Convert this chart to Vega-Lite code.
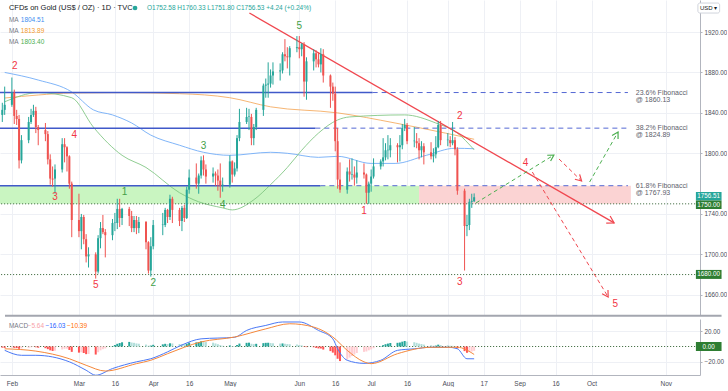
{
  "$schema": "https://vega.github.io/schema/vega-lite/v6.json",
  "padding": 0,
  "autosize": {"type": "pad"},
  "spacing": 2,
  "background": "#ffffff",
  "config": {"font": "Liberation Sans", "view": {"stroke": null}},
  "datasets": {
    "candles": [
      {"d":"2021-01-28","o":1838,"h":1850,"l":1831,"c":1843,"m":-1.5},
      {"d":"2021-01-29","o":1843,"h":1866,"l":1838,"c":1848,"m":-1.8},
      {"d":"2021-02-01","o":1848,"h":1875,"l":1846,"c":1860,"m":-1.5},
      {"d":"2021-02-02","o":1860,"h":1863,"l":1829,"c":1837,"m":-1.8},
      {"d":"2021-02-03","o":1837,"h":1843,"l":1828,"c":1834,"m":-2.0},
      {"d":"2021-02-04","o":1834,"h":1838,"l":1785,"c":1793,"m":-3.0},
      {"d":"2021-02-05","o":1793,"h":1818,"l":1790,"c":1813,"m":-2.5},
      {"d":"2021-02-08","o":1813,"h":1836,"l":1810,"c":1831,"m":-1.8},
      {"d":"2021-02-09","o":1831,"h":1844,"l":1829,"c":1838,"m":-1.0},
      {"d":"2021-02-10","o":1838,"h":1848,"l":1836,"c":1842,"m":-0.6},
      {"d":"2021-02-11","o":1842,"h":1846,"l":1820,"c":1826,"m":-1.0},
      {"d":"2021-02-12","o":1826,"h":1828,"l":1808,"c":1823,"m":-1.6},
      {"d":"2021-02-15","o":1823,"h":1830,"l":1812,"c":1819,"m":-2.2},
      {"d":"2021-02-16","o":1819,"h":1822,"l":1789,"c":1794,"m":-3.5},
      {"d":"2021-02-17","o":1794,"h":1799,"l":1769,"c":1775,"m":-5.0},
      {"d":"2021-02-18","o":1775,"h":1787,"l":1767,"c":1774,"m":-5.8},
      {"d":"2021-02-19","o":1775,"h":1789,"l":1760,"c":1784,"m":-5.5},
      {"d":"2021-02-22","o":1784,"h":1815,"l":1781,"c":1809,"m":-3.8},
      {"d":"2021-02-23","o":1809,"h":1815,"l":1791,"c":1806,"m":-3.0},
      {"d":"2021-02-24","o":1806,"h":1807,"l":1782,"c":1797,"m":-2.8},
      {"d":"2021-02-25","o":1797,"h":1798,"l":1765,"c":1770,"m":-4.5},
      {"d":"2021-02-26","o":1770,"h":1772,"l":1717,"c":1734,"m":-7.0},
      {"d":"2021-03-01","o":1734,"h":1760,"l":1717,"c":1723,"m":-8.0},
      {"d":"2021-03-02","o":1723,"h":1740,"l":1705,"c":1737,"m":-7.5},
      {"d":"2021-03-03","o":1737,"h":1739,"l":1710,"c":1715,"m":-8.5},
      {"d":"2021-03-04","o":1715,"h":1720,"l":1692,"c":1698,"m":-10.0},
      {"d":"2021-03-05","o":1698,"h":1707,"l":1687,"c":1700,"m":-9.8},
      {"d":"2021-03-08","o":1700,"h":1702,"l":1676,"c":1683,"m":-10.5},
      {"d":"2021-03-09","o":1683,"h":1719,"l":1681,"c":1716,"m":-7.5},
      {"d":"2021-03-10","o":1716,"h":1732,"l":1706,"c":1726,"m":-5.0},
      {"d":"2021-03-11","o":1726,"h":1739,"l":1720,"c":1722,"m":-3.5},
      {"d":"2021-03-12","o":1722,"h":1725,"l":1697,"c":1719,"m":-2.5},
      {"d":"2021-03-15","o":1719,"h":1735,"l":1714,"c":1731,"m":0.5},
      {"d":"2021-03-16","o":1731,"h":1741,"l":1723,"c":1731.5,"m":2.0},
      {"d":"2021-03-17","o":1731,"h":1755,"l":1725,"c":1745,"m":3.5},
      {"d":"2021-03-18","o":1745,"h":1755,"l":1727,"c":1736,"m":4.5},
      {"d":"2021-03-19","o":1736,"h":1746,"l":1729,"c":1745,"m":5.5},
      {"d":"2021-03-22","o":1745,"h":1747,"l":1728,"c":1738,"m":6.0},
      {"d":"2021-03-23","o":1738,"h":1743,"l":1722,"c":1726,"m":5.2},
      {"d":"2021-03-24","o":1726,"h":1738,"l":1722,"c":1734,"m":4.8},
      {"d":"2021-03-25","o":1734,"h":1738,"l":1720,"c":1726,"m":4.0},
      {"d":"2021-03-26","o":1726,"h":1737,"l":1721,"c":1732,"m":3.6},
      {"d":"2021-03-29","o":1732,"h":1733,"l":1705,"c":1712,"m":2.5},
      {"d":"2021-03-30","o":1712,"h":1713,"l":1681,"c":1684,"m":1.0},
      {"d":"2021-03-31","o":1684,"h":1717,"l":1678,"c":1708,"m":1.2},
      {"d":"2021-04-01","o":1708,"h":1734,"l":1705,"c":1729,"m":2.2},
      {"d":"2021-04-05","o":1729,"h":1741,"l":1719,"c":1729.5,"m":2.8},
      {"d":"2021-04-06","o":1729,"h":1746,"l":1727,"c":1744,"m":3.5},
      {"d":"2021-04-07","o":1744,"h":1745,"l":1731,"c":1737,"m":3.2},
      {"d":"2021-04-08","o":1737,"h":1759,"l":1734,"c":1755,"m":4.2},
      {"d":"2021-04-09","o":1755,"h":1757,"l":1731,"c":1744,"m":4.0},
      {"d":"2021-04-12","o":1744,"h":1746,"l":1728,"c":1733,"m":3.2},
      {"d":"2021-04-13","o":1733,"h":1748,"l":1723,"c":1746,"m":3.0},
      {"d":"2021-04-14","o":1746,"h":1749,"l":1732,"c":1736,"m":2.6},
      {"d":"2021-04-15","o":1736,"h":1767,"l":1735,"c":1764,"m":3.6},
      {"d":"2021-04-16","o":1764,"h":1784,"l":1760,"c":1776,"m":5.0},
      {"d":"2021-04-19","o":1776,"h":1790,"l":1765,"c":1770,"m":5.4},
      {"d":"2021-04-20","o":1770,"h":1780,"l":1760,"c":1778,"m":5.8},
      {"d":"2021-04-21","o":1778,"h":1797,"l":1775,"c":1793,"m":6.8},
      {"d":"2021-04-22","o":1793,"h":1798,"l":1778,"c":1784,"m":6.6},
      {"d":"2021-04-23","o":1784,"h":1789,"l":1770,"c":1777,"m":5.8},
      {"d":"2021-04-26","o":1777,"h":1786,"l":1771,"c":1780,"m":5.0},
      {"d":"2021-04-27","o":1780,"h":1782,"l":1768,"c":1778,"m":4.0},
      {"d":"2021-04-28","o":1778,"h":1784,"l":1763,"c":1773,"m":3.0},
      {"d":"2021-04-29","o":1773,"h":1790,"l":1756,"c":1768,"m":1.8},
      {"d":"2021-04-30","o":1768,"h":1776,"l":1762,"c":1769,"m":1.0},
      {"d":"2021-05-03","o":1769,"h":1798,"l":1766,"c":1792,"m":1.4},
      {"d":"2021-05-04","o":1792,"h":1793,"l":1771,"c":1779,"m":0.6},
      {"d":"2021-05-05","o":1779,"h":1791,"l":1777,"c":1785,"m":0.4},
      {"d":"2021-05-06","o":1785,"h":1818,"l":1782,"c":1815,"m":2.0},
      {"d":"2021-05-07","o":1815,"h":1844,"l":1812,"c":1831,"m":3.8},
      {"d":"2021-05-10","o":1831,"h":1845,"l":1829,"c":1836,"m":4.8},
      {"d":"2021-05-11","o":1836,"h":1844,"l":1823,"c":1836.5,"m":5.0},
      {"d":"2021-05-12","o":1836,"h":1839,"l":1808,"c":1815,"m":3.6},
      {"d":"2021-05-13","o":1815,"h":1829,"l":1808,"c":1826,"m":3.2},
      {"d":"2021-05-14","o":1826,"h":1845,"l":1823,"c":1843,"m":3.5},
      {"d":"2021-05-17","o":1843,"h":1869,"l":1837,"c":1867,"m":4.4},
      {"d":"2021-05-18","o":1867,"h":1874,"l":1855,"c":1868,"m":4.8},
      {"d":"2021-05-19","o":1868,"h":1890,"l":1855,"c":1869,"m":4.9},
      {"d":"2021-05-20","o":1869,"h":1883,"l":1865,"c":1877,"m":4.6},
      {"d":"2021-05-21","o":1877,"h":1890,"l":1868,"c":1881,"m":4.2},
      {"d":"2021-05-24","o":1881,"h":1889,"l":1872,"c":1882,"m":3.8},
      {"d":"2021-05-25","o":1882,"h":1900,"l":1879,"c":1898,"m":4.0},
      {"d":"2021-05-26","o":1898,"h":1913,"l":1891,"c":1896,"m":3.6},
      {"d":"2021-05-27","o":1896,"h":1905,"l":1884,"c":1895,"m":3.2},
      {"d":"2021-05-28","o":1895,"h":1906,"l":1877,"c":1904,"m":3.0},
      {"d":"2021-05-31","o":1904,"h":1916,"l":1900,"c":1905,"m":2.6},
      {"d":"2021-06-01","o":1905,"h":1916,"l":1894,"c":1903,"m":2.0},
      {"d":"2021-06-02","o":1903,"h":1909,"l":1896,"c":1908,"m":1.5},
      {"d":"2021-06-03","o":1908,"h":1910,"l":1856,"c":1871,"m":-0.5},
      {"d":"2021-06-04","o":1871,"h":1895,"l":1853,"c":1891,"m":-0.8},
      {"d":"2021-06-07","o":1891,"h":1903,"l":1882,"c":1899,"m":-1.0},
      {"d":"2021-06-08","o":1899,"h":1902,"l":1885,"c":1893,"m":-1.8},
      {"d":"2021-06-09","o":1893,"h":1900,"l":1885,"c":1888,"m":-2.5},
      {"d":"2021-06-10","o":1888,"h":1904,"l":1880,"c":1898,"m":-2.6},
      {"d":"2021-06-11","o":1898,"h":1903,"l":1870,"c":1877,"m":-4.0},
      {"d":"2021-06-14","o":1877,"h":1878,"l":1845,"c":1866,"m":-6.0},
      {"d":"2021-06-15","o":1866,"h":1870,"l":1852,"c":1859,"m":-8.0},
      {"d":"2021-06-16","o":1859,"h":1866,"l":1802,"c":1812,"m":-11.5},
      {"d":"2021-06-17","o":1812,"h":1825,"l":1765,"c":1774,"m":-16.0},
      {"d":"2021-06-18","o":1774,"h":1791,"l":1761,"c":1764,"m":-19.0},
      {"d":"2021-06-21","o":1764,"h":1786,"l":1760,"c":1782,"m":-17.0},
      {"d":"2021-06-22","o":1782,"h":1794,"l":1772,"c":1779,"m":-14.5},
      {"d":"2021-06-23","o":1779,"h":1795,"l":1774,"c":1779.5,"m":-12.5},
      {"d":"2021-06-24","o":1779,"h":1787,"l":1768,"c":1776,"m":-10.5},
      {"d":"2021-06-25","o":1776,"h":1793,"l":1770,"c":1781,"m":-8.5},
      {"d":"2021-06-28","o":1781,"h":1790,"l":1775,"c":1779,"m":-7.0},
      {"d":"2021-06-29","o":1779,"h":1780,"l":1750,"c":1761,"m":-6.5},
      {"d":"2021-06-30","o":1761,"h":1772,"l":1750,"c":1770,"m":-5.0},
      {"d":"2021-07-01","o":1770,"h":1784,"l":1762,"c":1777,"m":-3.8},
      {"d":"2021-07-02","o":1777,"h":1795,"l":1775,"c":1787,"m":-2.2},
      {"d":"2021-07-05","o":1787,"h":1794,"l":1784,"c":1792,"m":0.5},
      {"d":"2021-07-06","o":1792,"h":1815,"l":1787,"c":1796,"m":1.8},
      {"d":"2021-07-07","o":1796,"h":1810,"l":1793,"c":1803,"m":3.0},
      {"d":"2021-07-08","o":1803,"h":1818,"l":1794,"c":1803.5,"m":3.8},
      {"d":"2021-07-09","o":1803,"h":1815,"l":1796,"c":1808,"m":4.6},
      {"d":"2021-07-12","o":1808,"h":1810,"l":1791,"c":1806,"m":4.8},
      {"d":"2021-07-13","o":1806,"h":1818,"l":1792,"c":1808,"m":5.2},
      {"d":"2021-07-14","o":1808,"h":1829,"l":1804,"c":1825,"m":6.3},
      {"d":"2021-07-15","o":1825,"h":1834,"l":1822,"c":1828,"m":7.2},
      {"d":"2021-07-16","o":1828,"h":1830,"l":1809,"c":1812,"m":6.4},
      {"d":"2021-07-19","o":1812,"h":1826,"l":1806,"c":1812.5,"m":5.6},
      {"d":"2021-07-20","o":1812,"h":1820,"l":1805,"c":1810,"m":4.8},
      {"d":"2021-07-21","o":1810,"h":1815,"l":1794,"c":1803,"m":3.8},
      {"d":"2021-07-22","o":1803,"h":1812,"l":1796,"c":1807,"m":3.2},
      {"d":"2021-07-23","o":1807,"h":1810,"l":1789,"c":1801,"m":2.5},
      {"d":"2021-07-26","o":1801,"h":1811,"l":1794,"c":1797,"m":1.6},
      {"d":"2021-07-27","o":1797,"h":1805,"l":1791,"c":1799,"m":1.0},
      {"d":"2021-07-28","o":1799,"h":1817,"l":1795,"c":1806,"m":1.2},
      {"d":"2021-07-29","o":1806,"h":1832,"l":1805,"c":1828,"m":2.4},
      {"d":"2021-07-30","o":1828,"h":1832,"l":1808,"c":1813,"m":2.0},
      {"d":"2021-08-02","o":1813,"h":1820,"l":1807,"c":1813.5,"m":1.6},
      {"d":"2021-08-03","o":1813,"h":1817,"l":1806,"c":1810,"m":1.0},
      {"d":"2021-08-04","o":1810,"h":1831,"l":1808,"c":1813,"m":0.9},
      {"d":"2021-08-05","o":1813,"h":1816,"l":1798,"c":1804,"m":0.3},
      {"d":"2021-08-06","o":1804,"h":1806,"l":1759,"c":1763,"m":-2.5},
      {"d":"2021-08-09","o":1763,"h":1765,"l":1684,"c":1728,"m":-6.0},
      {"d":"2021-08-10","o":1728,"h":1739,"l":1718,"c":1729,"m":-8.2},
      {"d":"2021-08-11","o":1729,"h":1755,"l":1724,"c":1752,"m":-7.4},
      {"d":"2021-08-12","o":1752,"h":1760,"l":1746,"c":1753,"m":-6.6},
      {"d":"2021-08-13","o":1752.58,"h":1760.33,"l":1751.8,"c":1756.53,"m":-5.64}
    ],
    "ma": [
      {"s":"a","d":"2021-01-29","p":1880},{"s":"a","d":"2021-02-12","p":1872.5},{"s":"a","d":"2021-02-26","p":1860.7},
      {"s":"a","d":"2021-03-07","p":1843},{"s":"a","d":"2021-03-15","p":1838},{"s":"a","d":"2021-03-23","p":1830},
      {"s":"a","d":"2021-03-31","p":1818},{"s":"a","d":"2021-04-12","p":1808},{"s":"a","d":"2021-04-22","p":1801},
      {"s":"a","d":"2021-05-03","p":1798},{"s":"a","d":"2021-05-20","p":1801},{"s":"a","d":"2021-05-27","p":1800},
      {"s":"a","d":"2021-06-09","p":1796},{"s":"a","d":"2021-06-17","p":1797},{"s":"a","d":"2021-07-01","p":1790},
      {"s":"a","d":"2021-07-11","p":1790},{"s":"a","d":"2021-07-24","p":1798},{"s":"a","d":"2021-08-05","p":1805},
      {"s":"a","d":"2021-08-13","p":1804.51},
      {"s":"b","d":"2021-01-29","p":1854.7},{"s":"b","d":"2021-02-12","p":1857.7},{"s":"b","d":"2021-02-26","p":1859.7},
      {"s":"b","d":"2021-03-19","p":1860},{"s":"b","d":"2021-04-12","p":1859},{"s":"b","d":"2021-05-03","p":1855},
      {"s":"b","d":"2021-05-20","p":1846},{"s":"b","d":"2021-06-17","p":1840},{"s":"b","d":"2021-07-11","p":1830},
      {"s":"b","d":"2021-08-01","p":1820},{"s":"b","d":"2021-08-13","p":1813.89},
      {"s":"c","d":"2021-01-29","p":1851},{"s":"c","d":"2021-02-12","p":1860},{"s":"c","d":"2021-02-26","p":1855},
      {"s":"c","d":"2021-03-07","p":1826},{"s":"c","d":"2021-03-19","p":1798},{"s":"c","d":"2021-03-29","p":1786},
      {"s":"c","d":"2021-04-12","p":1761},{"s":"c","d":"2021-04-20","p":1752},{"s":"c","d":"2021-04-30","p":1746},
      {"s":"c","d":"2021-05-04","p":1744},{"s":"c","d":"2021-05-13","p":1754},{"s":"c","d":"2021-05-20","p":1769},
      {"s":"c","d":"2021-05-27","p":1786},{"s":"c","d":"2021-06-02","p":1803},{"s":"c","d":"2021-06-09","p":1820},
      {"s":"c","d":"2021-06-17","p":1833},{"s":"c","d":"2021-06-22","p":1836},{"s":"c","d":"2021-07-15","p":1838},
      {"s":"c","d":"2021-07-28","p":1830},{"s":"c","d":"2021-08-06","p":1820},{"s":"c","d":"2021-08-13","p":1803.4}
    ],
    "macd": [
      {"s":"m","d":"2021-01-29","v":-5},{"s":"m","d":"2021-02-05","v":-11.5},{"s":"m","d":"2021-02-11","v":-11.5},
      {"s":"m","d":"2021-02-25","v":-20},{"s":"m","d":"2021-03-04","v":-31},{"s":"m","d":"2021-03-08","v":-37.5},
      {"s":"m","d":"2021-03-15","v":-28.8},{"s":"m","d":"2021-03-25","v":-20},{"s":"m","d":"2021-03-31","v":-16},
      {"s":"m","d":"2021-04-07","v":-7},{"s":"m","d":"2021-04-13","v":2},{"s":"m","d":"2021-04-21","v":10},
      {"s":"m","d":"2021-05-05","v":12},{"s":"m","d":"2021-05-10","v":21},{"s":"m","d":"2021-05-18","v":27.5},
      {"s":"m","d":"2021-05-25","v":32},{"s":"m","d":"2021-06-01","v":32},{"s":"m","d":"2021-06-09","v":21},
      {"s":"m","d":"2021-06-15","v":10},{"s":"m","d":"2021-06-17","v":-3},{"s":"m","d":"2021-06-21","v":-18},
      {"s":"m","d":"2021-06-28","v":-22},{"s":"m","d":"2021-07-05","v":-18},{"s":"m","d":"2021-07-12","v":-5},
      {"s":"m","d":"2021-07-19","v":-3},{"s":"m","d":"2021-07-26","v":-1},{"s":"m","d":"2021-08-02","v":-1},
      {"s":"m","d":"2021-08-06","v":-3},{"s":"m","d":"2021-08-10","v":-16},{"s":"m","d":"2021-08-13","v":-16.03},
      {"s":"s","d":"2021-01-29","v":-3},{"s":"s","d":"2021-02-11","v":-6},{"s":"s","d":"2021-02-25","v":-16},
      {"s":"s","d":"2021-03-04","v":-24.5},{"s":"s","d":"2021-03-12","v":-32},{"s":"s","d":"2021-03-25","v":-22.4},
      {"s":"s","d":"2021-03-31","v":-18},{"s":"s","d":"2021-04-07","v":-9.4},{"s":"s","d":"2021-04-21","v":6},
      {"s":"s","d":"2021-05-05","v":12.4},{"s":"s","d":"2021-05-18","v":23},{"s":"s","d":"2021-05-28","v":29.7},
      {"s":"s","d":"2021-06-07","v":25.4},{"s":"s","d":"2021-06-15","v":12.4},{"s":"s","d":"2021-06-21","v":-5},
      {"s":"s","d":"2021-06-28","v":-20},{"s":"s","d":"2021-07-01","v":-22.4},{"s":"s","d":"2021-07-12","v":-9.4},
      {"s":"s","d":"2021-07-26","v":-1},{"s":"s","d":"2021-08-06","v":-1},{"s":"s","d":"2021-08-13","v":-10.39}
    ],
    "zones": [
      {"z":"s","d":"2021-01-20","d2":"2021-07-21","p":1750,"p2":1767.93},
      {"z":"r","d":"2021-07-21","d2":"2021-10-17T10:00:00Z","p":1750,"p2":1767.93}
    ],
    "rays": [
      {"d":"2021-01-20","d2":"2021-07-01T15:00:00Z","p":1860.13},
      {"d":"2021-01-20","d2":"2021-06-07T17:00:00Z","p":1824.89},
      {"d":"2021-01-20","d2":"2021-06-09T19:00:00Z","p":1767.93}
    ],
    "fibs": [
      {"d":"2021-07-01T15:00:00Z","d2":"2021-10-16T05:00:00Z","dt":"2021-10-19T12:00:00Z","p":1860.13,"t":["23.6% Fibonacci","@ 1860.13"]},
      {"d":"2021-06-07T17:00:00Z","d2":"2021-10-16T05:00:00Z","dt":"2021-10-19T12:00:00Z","p":1824.89,"t":["38.2% Fibonacci","@ 1824.89"]},
      {"d":"2021-06-09T19:00:00Z","d2":"2021-10-16T05:00:00Z","dt":"2021-10-19T12:00:00Z","p":1767.93,"t":["61.8% Fibonacci","@ 1767.93"]}
    ],
    "levels": [
      {"d":"2021-01-20","d2":"2021-12-01","p":1750},
      {"d":"2021-01-20","d2":"2021-12-01","p":1680}
    ],
    "trend": [
      {"d":"2021-05-11T04:00:00Z","p":1938.8},
      {"d":"2021-10-10T10:30:00Z","p":1731.1}
    ],
    "proj": [
      {"k":"g1","sc":"bull","i":0,"d":"2021-08-13T19:00:00Z","p":1750.9},
      {"k":"g1","sc":"bull","i":1,"d":"2021-09-15T07:00:00Z","p":1798.3},
      {"k":"r1","sc":"bear","i":0,"d":"2021-09-17T10:00:00Z","p":1794.4},
      {"k":"r1","sc":"bear","i":1,"d":"2021-09-26T20:40:00Z","p":1772.6},
      {"k":"g2","sc":"bull","i":0,"d":"2021-09-30T05:00:00Z","p":1771.6},
      {"k":"g2","sc":"bull","i":1,"d":"2021-10-12T02:00:00Z","p":1821.1},
      {"k":"r2","sc":"bear","i":0,"d":"2021-09-06T07:00:00Z","p":1781.5},
      {"k":"r2","sc":"bear","i":1,"d":"2021-10-07T23:00:00Z","p":1657.8}
    ],
    "heads": [
      {"k":"t","sc":"bear","i":0,"d":"2021-10-08T18:30:00Z","p":1737.9},
      {"k":"t","sc":"bear","i":1,"d":"2021-10-10T10:30:00Z","p":1731.1},
      {"k":"t","sc":"bear","i":2,"d":"2021-10-07T03:30:00Z","p":1731.0},
      {"k":"g1","sc":"bull","i":0,"d":"2021-09-12T12:00:00Z","p":1798.1},
      {"k":"g1","sc":"bull","i":1,"d":"2021-09-15T07:00:00Z","p":1798.3},
      {"k":"g1","sc":"bull","i":2,"d":"2021-09-13T22:00:00Z","p":1792.3},
      {"k":"r1","sc":"bear","i":0,"d":"2021-09-26T01:00:00Z","p":1779.2},
      {"k":"r1","sc":"bear","i":1,"d":"2021-09-26T20:40:00Z","p":1772.6},
      {"k":"r1","sc":"bear","i":2,"d":"2021-09-24T01:30:00Z","p":1774.3},
      {"k":"g2","sc":"bull","i":0,"d":"2021-10-09T14:00:00Z","p":1817.6},
      {"k":"g2","sc":"bull","i":1,"d":"2021-10-12T02:00:00Z","p":1821.1},
      {"k":"g2","sc":"bull","i":2,"d":"2021-10-12T02:00:00Z","p":1814.2},
      {"k":"r2","sc":"bear","i":0,"d":"2021-10-07T21:00:00Z","p":1664.8},
      {"k":"r2","sc":"bear","i":1,"d":"2021-10-07T23:00:00Z","p":1657.8},
      {"k":"r2","sc":"bear","i":2,"d":"2021-10-05T10:00:00Z","p":1661.1}
    ],
    "waves": [
      {"d":"2021-02-02T05:30:00Z","p":1886.4,"n":"2","sc":"bear"},
      {"d":"2021-02-19","p":1756.8,"n":"3","sc":"bear"},
      {"d":"2021-02-27","p":1818.1,"n":"4","sc":"bear"},
      {"d":"2021-03-08","p":1669.7,"n":"5","sc":"bear"},
      {"d":"2021-03-20","p":1761.7,"n":"1","sc":"bull"},
      {"d":"2021-04-01","p":1671.7,"n":"2","sc":"bull"},
      {"d":"2021-04-22","p":1807.2,"n":"3","sc":"bull"},
      {"d":"2021-04-30","p":1748.9,"n":"4","sc":"bull"},
      {"d":"2021-06-01","p":1926.0,"n":"5","sc":"bull"},
      {"d":"2021-06-28","p":1742.9,"n":"1","sc":"bear"},
      {"d":"2021-08-07","p":1836.9,"n":"2","sc":"bear"},
      {"d":"2021-08-07","p":1672.7,"n":"3","sc":"bear"},
      {"d":"2021-09-03T10:00:00Z","p":1790.4,"n":"4","sc":"bear"},
      {"d":"2021-10-10T21:00:00Z","p":1650.9,"n":"5","sc":"bear"}
    ]
  },
  "vconcat": [
    {
      "width": 700,
      "height": 315,
      "resolve": {"scale": {"color": "independent"}},
      "layer": [
        {
          "data": {"name": "zones"},
          "mark": {"type": "rect", "clip": true},
          "encoding": {
            "x": {"field": "d", "type": "temporal", "title": null, "scale": {"type": "utc", "domain": [{"year":2021,"month":1,"date":29,"hours":3,"utc":true},{"year":2021,"month":11,"date":13,"hours":5,"utc":true}]},
                  "axis": {"values": [{"year":2021,"month":2,"date":1,"utc":true},{"year":2021,"month":3,"date":1,"utc":true},{"year":2021,"month":3,"date":16,"utc":true},{"year":2021,"month":4,"date":1,"utc":true},{"year":2021,"month":4,"date":16,"utc":true},{"year":2021,"month":5,"date":3,"utc":true},{"year":2021,"month":6,"date":1,"utc":true},{"year":2021,"month":6,"date":16,"utc":true},{"year":2021,"month":7,"date":1,"utc":true},{"year":2021,"month":7,"date":16,"utc":true},{"year":2021,"month":8,"date":2,"utc":true},{"year":2021,"month":8,"date":17,"utc":true},{"year":2021,"month":9,"date":1,"utc":true},{"year":2021,"month":9,"date":16,"utc":true},{"year":2021,"month":10,"date":1,"utc":true},{"year":2021,"month":11,"date":1,"utc":true}],
                           "labels": false, "ticks": false, "domain": false, "grid": true, "gridColor": "#eef0f5", "title": null}},
            "x2": {"field": "d2"},
            "y": {"field": "p", "type": "quantitative", "title": null, "scale": {"domain": [1640, 1951.7], "nice": false, "zero": false},
                  "axis": {"orient": "right", "values": [1660,1680,1700,1720,1740,1780,1800,1820,1840,1860,1880,1900,1920], "format": ".2f", "title": null, "grid": true, "gridColor": "#eef0f5", "domain": true, "domainColor": "#b2b5be", "ticks": true, "tickColor": "#b2b5be", "tickSize": 2, "labelFontSize": 6.3, "labelColor": "#4a4d57", "labelPadding": 2}},
            "y2": {"field": "p2"},
            "color": {"field": "z", "type": "nominal", "scale": {"domain": ["s", "r"], "range": ["#c9f5c1", "#fbd3d3"]}, "legend": null}
          }
        },
        {
          "data": {"name": "ma"},
          "mark": {"type": "line", "strokeWidth": 1, "interpolate": "monotone", "opacity": 0.85},
          "encoding": {
            "x": {"field": "d", "type": "temporal", "title": null},
            "y": {"field": "p", "type": "quantitative", "title": null},
            "color": {"field": "s", "type": "nominal", "scale": {"domain": ["a", "b", "c"], "range": ["#6aa8f7", "#f5a85a", "#7cc47f"]}, "legend": null}
          }
        },
        {
          "data": {"name": "rays"},
          "mark": {"type": "rule", "color": "#4059c9", "strokeWidth": 1.5, "clip": true},
          "encoding": {
            "x": {"field": "d", "type": "temporal", "title": null},
            "x2": {"field": "d2"},
            "y": {"field": "p", "type": "quantitative", "title": null}
          }
        },
        {
          "data": {"name": "fibs"},
          "mark": {"type": "rule", "color": "#5468d4", "strokeWidth": 1, "strokeDash": [5, 4], "clip": true},
          "encoding": {
            "x": {"field": "d", "type": "temporal", "title": null},
            "x2": {"field": "d2"},
            "y": {"field": "p", "type": "quantitative", "title": null}
          }
        },
        {
          "data": {"name": "levels"},
          "mark": {"type": "rule", "color": "#2e5e2e", "strokeWidth": 1, "strokeDash": [1, 2], "clip": true},
          "encoding": {
            "x": {"field": "d", "type": "temporal", "title": null},
            "x2": {"field": "d2"},
            "y": {"field": "p", "type": "quantitative", "title": null}
          }
        },
        {
          "data": {"name": "trend"},
          "mark": {"type": "line", "color": "#f0474f", "strokeWidth": 1.3, "clip": true},
          "encoding": {
            "x": {"field": "d", "type": "temporal", "title": null},
            "y": {"field": "p", "type": "quantitative", "title": null}
          }
        },
        {
          "data": {"name": "candles"},
          "mark": {"type": "rule", "strokeWidth": 1},
          "encoding": {
            "x": {"field": "d", "type": "temporal", "title": null},
            "y": {"field": "l", "type": "quantitative", "title": null},
            "y2": {"field": "h"},
            "color": {"condition": {"test": "datum.c >= datum.o", "value": "#26a69a"}, "value": "#ef5350"}
          }
        },
        {
          "data": {"name": "candles"},
          "mark": {"type": "bar", "width": 2},
          "encoding": {
            "x": {"field": "d", "type": "temporal", "title": null},
            "y": {"field": "o", "type": "quantitative", "title": null},
            "y2": {"field": "c"},
            "color": {"condition": {"test": "datum.c >= datum.o", "value": "#26a69a"}, "value": "#ef5350"}
          }
        },
        {
          "data": {"name": "proj"},
          "mark": {"type": "line", "strokeWidth": 1, "strokeDash": [4, 3]},
          "encoding": {
            "x": {"field": "d", "type": "temporal", "title": null},
            "y": {"field": "p", "type": "quantitative", "title": null},
            "detail": {"field": "k"},
            "order": {"field": "i"},
            "color": {"field": "sc", "type": "nominal", "scale": {"domain": ["bear", "bull"], "range": ["#f0474f", "#4caf50"]}, "legend": null}
          }
        },
        {
          "data": {"name": "heads"},
          "mark": {"type": "line", "strokeWidth": 1.2},
          "encoding": {
            "x": {"field": "d", "type": "temporal", "title": null},
            "y": {"field": "p", "type": "quantitative", "title": null},
            "detail": {"field": "k"},
            "order": {"field": "i"},
            "color": {"field": "sc", "type": "nominal", "scale": {"domain": ["bear", "bull"], "range": ["#f0474f", "#4caf50"]}, "legend": null}
          }
        },
        {
          "data": {"name": "waves"},
          "mark": {"type": "text", "fontSize": 10, "align": "center", "baseline": "middle"},
          "encoding": {
            "x": {"field": "d", "type": "temporal", "title": null},
            "y": {"field": "p", "type": "quantitative", "title": null},
            "text": {"field": "n"},
            "color": {"field": "sc", "type": "nominal", "scale": {"domain": ["bear", "bull"], "range": ["#f23645", "#43a047"]}, "legend": null}
          }
        },
        {
          "data": {"name": "fibs"},
          "mark": {"type": "text", "fontSize": 7, "lineHeight": 7, "align": "left", "baseline": "middle", "color": "#5d606b"},
          "encoding": {
            "x": {"field": "dt", "type": "temporal", "title": null},
            "y": {"field": "p", "type": "quantitative", "title": null},
            "text": {"field": "t"}
          }
        },
        {
          "data": {"values": [{"d": "2021-01-29T03:00:00Z", "d2": "2021-11-24T07:00:00Z", "p": 1639.2}]},
          "mark": {"type": "rule", "color": "#a3a6af", "strokeWidth": 2},
          "encoding": {
            "x": {"field": "d", "type": "temporal", "title": null},
            "x2": {"field": "d2"},
            "y": {"field": "p", "type": "quantitative", "title": null}
          }
        },
        {
          "data": {"values": [{"d": "2021-01-30T18:30:00Z", "p": 1943.8, "t": "CFDs on Gold (US$ / OZ) · 1D · TVC"}]},
          "mark": {"type": "text", "fontSize": 7.5, "align": "left", "baseline": "middle", "color": "#131722"},
          "encoding": {
            "x": {"field": "d", "type": "temporal", "title": null},
            "y": {"field": "p", "type": "quantitative", "title": null},
            "text": {"field": "t"}
          }
        },
        {
          "data": {"values": [{"d": "2021-03-24T10:00:00Z", "p": 1943.8}]},
          "mark": {"type": "point", "filled": true, "size": 22, "color": "#26a69a", "opacity": 1},
          "encoding": {
            "x": {"field": "d", "type": "temporal", "title": null},
            "y": {"field": "p", "type": "quantitative", "title": null}
          }
        },
        {
          "data": {"values": [
            {"d": "2021-03-29T10:00:00Z", "p": 1943.8, "t": "O1752.58 H1760.33 L1751.80 C1756.53 +4.24 (+0.24%)", "g": "ohlc"},
            {"d": "2021-01-30T18:30:00Z", "p": 1932.4, "t": "MA", "g": "lab"},
            {"d": "2021-01-30T18:30:00Z", "p": 1921.0, "t": "MA", "g": "lab"},
            {"d": "2021-01-30T18:30:00Z", "p": 1910.1, "t": "MA", "g": "lab"},
            {"d": "2021-02-04T17:00:00Z", "p": 1932.4, "t": "1804.51", "g": "a"},
            {"d": "2021-02-04T17:00:00Z", "p": 1921.0, "t": "1813.89", "g": "b"},
            {"d": "2021-02-04T17:00:00Z", "p": 1910.1, "t": "1803.40", "g": "c"}
          ]},
          "mark": {"type": "text", "fontSize": 6.5, "align": "left", "baseline": "middle"},
          "encoding": {
            "x": {"field": "d", "type": "temporal", "title": null},
            "y": {"field": "p", "type": "quantitative", "title": null},
            "text": {"field": "t"},
            "color": {"field": "g", "type": "nominal", "scale": {"domain": ["ohlc", "lab", "a", "b", "c"], "range": ["#26a69a", "#787b86", "#3d8ef0", "#f39a2e", "#4caf50"]}, "legend": null}
          }
        },
        {
          "data": {"values": [
            {"d": "2021-11-13T14:00:00Z", "d2": "2021-11-24T07:00:00Z", "p": 1753.3, "p2": 1761.7, "b": "cur"},
            {"d": "2021-11-13T14:00:00Z", "d2": "2021-11-24T07:00:00Z", "p": 1744.9, "p2": 1753.3, "b": "lvl"},
            {"d": "2021-11-13T14:00:00Z", "d2": "2021-11-24T07:00:00Z", "p": 1675.7, "p2": 1684.6, "b": "lvl"}
          ]},
          "mark": {"type": "rect"},
          "encoding": {
            "x": {"field": "d", "type": "temporal", "title": null},
            "x2": {"field": "d2"},
            "y": {"field": "p", "type": "quantitative", "title": null},
            "y2": {"field": "p2"},
            "color": {"field": "b", "type": "nominal", "scale": {"domain": ["cur", "lvl"], "range": ["#26a69a", "#2e7d32"]}, "legend": null}
          }
        },
        {
          "data": {"values": [
            {"d": "2021-11-18T22:00:00Z", "p": 1757.5, "t": "1756.51"},
            {"d": "2021-11-18T22:00:00Z", "p": 1749.1, "t": "1750.00"},
            {"d": "2021-11-18T22:00:00Z", "p": 1680.2, "t": "1680.00"}
          ]},
          "mark": {"type": "text", "fontSize": 6.3, "align": "center", "baseline": "middle", "color": "#ffffff"},
          "encoding": {
            "x": {"field": "d", "type": "temporal", "title": null},
            "y": {"field": "p", "type": "quantitative", "title": null},
            "text": {"field": "t"}
          }
        },
        {
          "data": {"values": [{"d": "2021-11-14T10:00:00Z", "d2": "2021-11-23T12:00:00Z", "p": 1938.8, "p2": 1948.7}]},
          "mark": {"type": "rect", "fill": "#ffffff", "stroke": "#d1d4dc", "strokeWidth": 1, "cornerRadius": 2},
          "encoding": {
            "x": {"field": "d", "type": "temporal", "title": null},
            "x2": {"field": "d2"},
            "y": {"field": "p", "type": "quantitative", "title": null},
            "y2": {"field": "p2"}
          }
        },
        {
          "data": {"values": [{"d": "2021-11-18T22:00:00Z", "p": 1943.8, "t": "USD ▾"}]},
          "mark": {"type": "text", "fontSize": 6, "align": "center", "baseline": "middle", "color": "#131722"},
          "encoding": {
            "x": {"field": "d", "type": "temporal", "title": null},
            "y": {"field": "p", "type": "quantitative", "title": null},
            "text": {"field": "t"}
          }
        }
      ]
    },
    {
      "width": 700,
      "height": 56,
      "resolve": {"scale": {"color": "independent"}},
      "layer": [
        {
          "data": {"values": [{"d": "2021-01-20", "d2": "2021-12-01", "v": 0}]},
          "mark": {"type": "rule", "color": "#2e5e2e", "strokeWidth": 1, "strokeDash": [1, 2], "clip": true},
          "encoding": {
            "x": {"field": "d", "type": "temporal", "title": null, "scale": {"type": "utc", "domain": [{"year":2021,"month":1,"date":29,"hours":3,"utc":true},{"year":2021,"month":11,"date":13,"hours":5,"utc":true}]},
                  "axis": {"values": [{"year":2021,"month":2,"date":1,"utc":true},{"year":2021,"month":3,"date":1,"utc":true},{"year":2021,"month":3,"date":16,"utc":true},{"year":2021,"month":4,"date":1,"utc":true},{"year":2021,"month":4,"date":16,"utc":true},{"year":2021,"month":5,"date":3,"utc":true},{"year":2021,"month":6,"date":1,"utc":true},{"year":2021,"month":6,"date":16,"utc":true},{"year":2021,"month":7,"date":1,"utc":true},{"year":2021,"month":7,"date":16,"utc":true},{"year":2021,"month":8,"date":2,"utc":true},{"year":2021,"month":8,"date":17,"utc":true},{"year":2021,"month":9,"date":1,"utc":true},{"year":2021,"month":9,"date":16,"utc":true},{"year":2021,"month":10,"date":1,"utc":true},{"year":2021,"month":11,"date":1,"utc":true}],
                           "labelExpr": "utcdate(datum.value) <= 3 ? utcFormat(datum.value, '%b') : utcFormat(datum.value, '%-d')",
                           "labelFlush": false, "labelOverlap": false, "ticks": false, "domain": true, "domainColor": "#b2b5be", "grid": true, "gridColor": "#eef0f5", "labelFontSize": 6.5, "labelColor": "#4a4d57", "labelPadding": 5, "title": null}},
            "x2": {"field": "d2"},
            "y": {"field": "v", "type": "quantitative", "title": null, "scale": {"domain": [-37.2, 35.9], "nice": false, "zero": false},
                  "axis": {"orient": "right", "values": [-20, 0, 20], "format": ".2f", "title": null, "grid": true, "gridColor": "#eef0f5", "domain": true, "domainColor": "#b2b5be", "ticks": true, "tickColor": "#b2b5be", "tickSize": 2, "labelFontSize": 6.3, "labelColor": "#4a4d57", "labelPadding": 2}}
          }
        },
        {
          "data": {"name": "candles"},
          "transform": [
            {"window": [{"op": "lag", "field": "m", "as": "pm"}], "sort": [{"field": "d"}]},
            {"calculate": "datum.m >= 0 ? (datum.pm == null || datum.m >= datum.pm ? 'a' : 'b') : (datum.pm == null || datum.m < datum.pm ? 'c' : 'd')", "as": "hc"}
          ],
          "mark": {"type": "bar", "width": 2},
          "encoding": {
            "x": {"field": "d", "type": "temporal", "title": null},
            "y": {"field": "m", "type": "quantitative", "title": null},
            "y2": {"datum": 0},
            "color": {"field": "hc", "type": "nominal", "scale": {"domain": ["a", "b", "c", "d"], "range": ["#26a69a", "#b2dfdb", "#ff5252", "#ffcdd2"]}, "legend": null}
          }
        },
        {
          "data": {"name": "macd"},
          "mark": {"type": "line", "strokeWidth": 1, "interpolate": "monotone", "clip": true},
          "encoding": {
            "x": {"field": "d", "type": "temporal", "title": null},
            "y": {"field": "v", "type": "quantitative", "title": null},
            "color": {"field": "s", "type": "nominal", "scale": {"domain": ["m", "s"], "range": ["#4a78f5", "#f5873a"]}, "legend": null}
          }
        },
        {
          "data": {"values": [
            {"d": "2021-01-30T18:30:00Z", "v": 26.8, "t": "MACD", "g": "lab"},
            {"d": "2021-02-07T14:00:00Z", "v": 26.8, "t": "−5.64", "g": "h"},
            {"d": "2021-02-15T00:00:00Z", "v": 26.8, "t": "−16.03", "g": "m"},
            {"d": "2021-02-24T00:00:00Z", "v": 26.8, "t": "−10.39", "g": "s"}
          ]},
          "mark": {"type": "text", "fontSize": 6.5, "align": "left", "baseline": "middle"},
          "encoding": {
            "x": {"field": "d", "type": "temporal", "title": null},
            "y": {"field": "v", "type": "quantitative", "title": null},
            "text": {"field": "t"},
            "color": {"field": "g", "type": "nominal", "scale": {"domain": ["lab", "h", "m", "s"], "range": ["#787b86", "#f7a1a8", "#2962ff", "#ff6d00"]}, "legend": null}
          }
        },
        {
          "data": {"values": [{"d": "2021-11-13T14:00:00Z", "d2": "2021-11-24T07:00:00Z", "v": -5.9, "v2": 5.9}]},
          "mark": {"type": "rect", "color": "#2e7d32"},
          "encoding": {
            "x": {"field": "d", "type": "temporal", "title": null},
            "x2": {"field": "d2"},
            "y": {"field": "v", "type": "quantitative", "title": null},
            "y2": {"field": "v2"}
          }
        },
        {
          "data": {"values": [{"d": "2021-11-18T22:00:00Z", "v": 0, "t": "0.00"}]},
          "mark": {"type": "text", "fontSize": 6.3, "align": "center", "baseline": "middle", "color": "#ffffff"},
          "encoding": {
            "x": {"field": "d", "type": "temporal", "title": null},
            "y": {"field": "v", "type": "quantitative", "title": null},
            "text": {"field": "t"}
          }
        }
      ]
    }
  ]
}
